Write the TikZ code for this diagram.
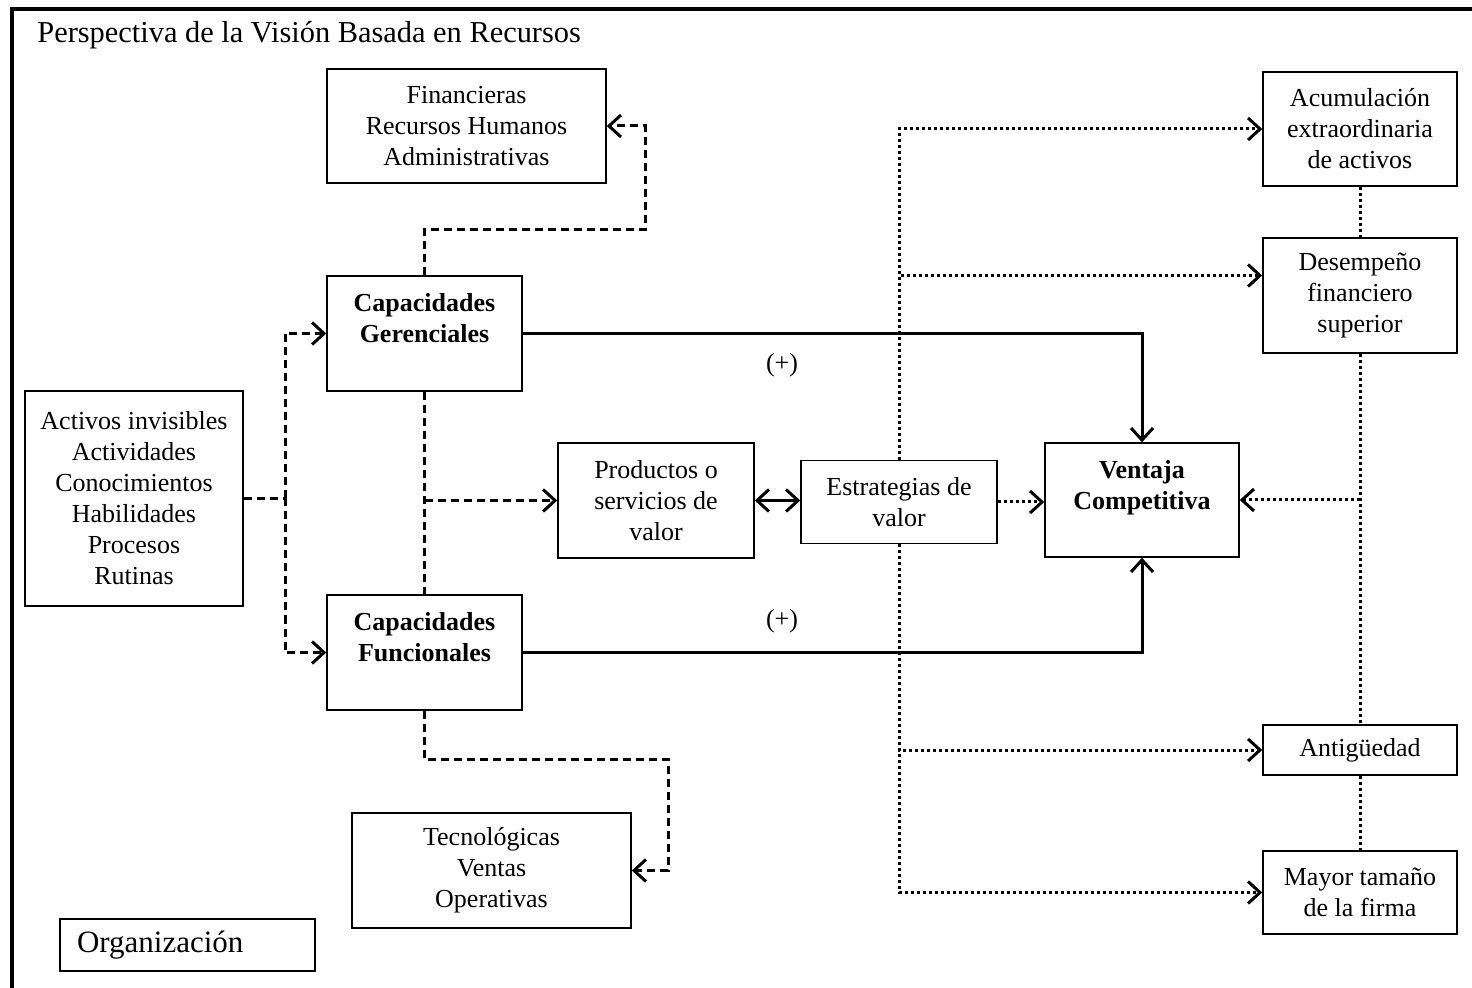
\documentclass[tikz,border=0pt]{standalone}
\usepackage{fontspec}
\setmainfont{Liberation Serif}
\usetikzlibrary{arrows.meta}
\begin{document}
\begin{tikzpicture}[x=0.5pt,y=-0.5pt,
  box/.style={draw, line width=0.75pt, fill=white, align=center, inner sep=0pt,
    font=\fontsize{13}{15.5}\selectfont},
  conn/.style={line width=1.5pt},
  dashline/.style={conn, dash pattern=on 4pt off 2.5pt},
  dotline/.style={conn, dash pattern=on 1.5pt off 1.5pt},
  arr/.style={-{Straight Barb[length=6pt,width=11pt]}},
  biarr/.style={{Straight Barb[length=6pt,width=11pt]}-{Straight Barb[length=6pt,width=11pt]}},
  sign/.style={font=\fontsize{13}{15.5}\selectfont, inner sep=0pt}]
\useasboundingbox (0,0) rectangle (1472,988);

% outer frame
\draw[line width=2pt] (12,988) -- (12,9) -- (1472,9);
\node[anchor=base west, inner sep=0pt, font=\fontsize{15.2}{17}\selectfont] (title) at (37,43)
  {Perspectiva de la Visión Basada en Recursos};

% boxes
\node[box, minimum width=139.5pt, minimum height=57pt] (fin) at (466.5,126)
  {Financieras\\Recursos Humanos\\Administrativas};
\node[box, minimum width=97.5pt, minimum height=57.5pt] (gc) at (424.5,333.5)
  {\bfseries Capacidades\\\bfseries Gerenciales\\\mbox{}};
\node[box, minimum width=97.5pt, minimum height=57.5pt] (gf) at (424.5,652.5)
  {\bfseries Capacidades\\\bfseries Funcionales\\\mbox{}};
\node[box, minimum width=109pt, minimum height=107.5pt] (act) at (134,498.5)
  {Activos invisibles\\Actividades\\Conocimientos\\Habilidades\\Procesos\\Rutinas};
\node[box, minimum width=98pt, minimum height=57.5pt] (prod) at (656,500.5)
  {Productos o\\servicios de\\valor};
\node[box, minimum width=98pt, minimum height=41.5pt] (est) at (899,502)
  {Estrategias de\\valor};
\node[box, minimum width=97pt, minimum height=57pt] (vc) at (1142,500)
  {\bfseries Ventaja\\\bfseries Competitiva\\\mbox{}};
\node[box, minimum width=97pt, minimum height=57pt] (acum) at (1360,129)
  {Acumulación\\extraordinaria\\de activos};
\node[box, minimum width=97pt, minimum height=57.5pt] (des) at (1360,295.5)
  {Desempeño\\financiero\\superior};
\node[box, minimum width=97pt, minimum height=25pt] (ant) at (1360,750)
  {Antigüedad};
\node[box, minimum width=97pt, minimum height=41.5pt] (may) at (1360,892.5)
  {Mayor tamaño\\de la firma};
\node[box, minimum width=139.5pt, minimum height=57.5pt] (tec) at (491.5,870.5)
  {Tecnológicas\\Ventas\\Operativas};
\node[box, minimum height=26pt, text width=110.5pt, inner xsep=8.5pt, align=left,
  font=\fontsize{15.5}{18}\selectfont] (org) at (187.5,945) {Organización};

% signs on the solid links
\node[sign] (plus1) at (782,365) {(+)};
\node[sign] (plus2) at (782,621) {(+)};

% dashed links from the resources
\coordinate (split) at (285,0);
\draw[dashline] (act.east) -- (act.east -| split);
\draw[dashline, arr] (act.east -| split) |- (gc.west);
\draw[dashline, arr] (act.east -| split) |- (gf.west);
\draw[dashline] (gc.south) -- (gf.north);
\draw[dashline, arr] (gc.south |- prod.west) -- (prod.west);
\draw[dashline, arr] (gc.north) |- (645,230) |- (fin.east);
\draw[dashline, arr] (gf.south) |- (668,759) |- (tec.east);

% solid links to the competitive advantage
\draw[conn, arr] (gc.east) -| (vc.north);
\draw[conn, arr] (gf.east) -| (vc.south);
\draw[conn, biarr] (prod.east) -- (prod.east -| est.west);

% dotted links from the value strategies
\draw[dotline, arr] (est.east) -- (est.east -| vc.west);
\draw[dotline, arr] (est.north) |- (acum.west);
\draw[dotline, arr] (est.north) |- ([yshift=10pt]des.west);
\draw[dotline, arr] (est.south) |- (ant.west);
\draw[dotline, arr] (est.south) |- (may.west);

% dotted chain of outcomes
\draw[dotline] (acum.south) -- (des.north);
\draw[dotline] (des.south) -- (ant.north);
\draw[dotline] (ant.south) -- (may.north);
\draw[dotline, arr] (des.south |- vc.east) -- (vc.east);
\end{tikzpicture}
\end{document}
